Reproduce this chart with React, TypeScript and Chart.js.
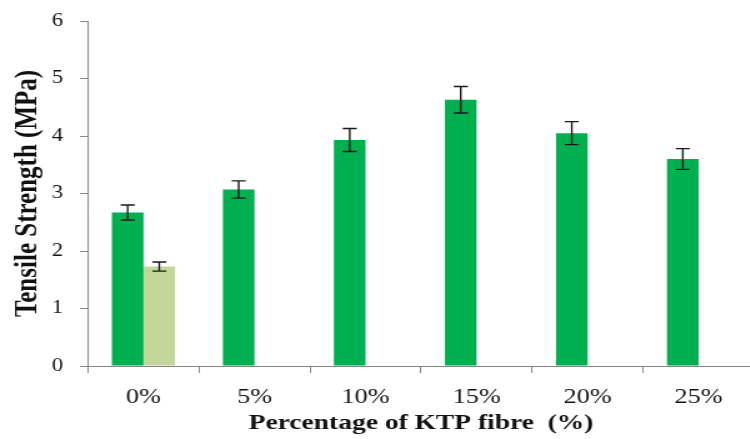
import React, { useEffect, useRef } from "react";
import { Chart, registerables } from "chart.js";

Chart.register(...registerables);

const categories = ["0%", "5%", "10%", "15%", "20%", "25%"];
const mainValues = [2.67, 3.07, 3.93, 4.63, 4.05, 3.6];
const mainErrors = [0.13, 0.15, 0.2, 0.23, 0.2, 0.18];
const refValues: (number | null)[] = [1.73, null, null, null, null, null];
const refErrors: (number | null)[] = [0.08, null, null, null, null, null];
const yTicks = [0, 1, 2, 3, 4, 5, 6];

const errorsByDataset = [mainErrors, refErrors];

const FONT = "'Liberation Serif', 'Times New Roman', serif";
// the reference is horizontally stretched; draw on a narrower canvas and stretch it with CSS
const SX = 1.25;
const CANVAS_W = 605;
const CANVAS_H = 439;

const errorBarPlugin = {
  id: "errorBars",
  afterDatasetsDraw(chart: any) {
    const ctx = chart.ctx;
    const yScale = chart.scales.y;
    ctx.save();
    ctx.strokeStyle = "#1a1a1a";
    ctx.lineWidth = 1.4;
    chart.data.datasets.forEach((ds: any, di: number) => {
      const meta = chart.getDatasetMeta(di);
      const errs = errorsByDataset[di];
      meta.data.forEach((bar: any, i: number) => {
        const v = ds.data[i];
        const e = errs[i];
        if (v == null || e == null) return;
        const x = bar.x;
        const yTop = yScale.getPixelForValue(v + e);
        const yBot = yScale.getPixelForValue(v - e);
        const half = 5.6;
        ctx.beginPath();
        ctx.moveTo(x, yTop);
        ctx.lineTo(x, yBot);
        ctx.moveTo(x - half, yTop);
        ctx.lineTo(x + half, yTop);
        ctx.moveTo(x - half, yBot);
        ctx.lineTo(x + half, yBot);
        ctx.stroke();
      });
    });
    ctx.restore();
  },
};

export default function App() {
  const canvasRef = useRef<HTMLCanvasElement | null>(null);

  useEffect(() => {
    const canvas = canvasRef.current;
    if (!canvas) return;
    const chart = new Chart(canvas, {
      type: "bar",
      data: {
        labels: categories,
        datasets: [
          {
            label: "KTP",
            data: mainValues,
            backgroundColor: "#00B050",
            borderWidth: 0,
            barPercentage: 1,
            categoryPercentage: 0.57,
          },
          {
            label: "Reference",
            data: refValues,
            backgroundColor: "#C4D79B",
            borderWidth: 0,
            barPercentage: 1,
            categoryPercentage: 0.57,
          },
        ],
      },
      options: {
        responsive: false,
        animation: false,
        devicePixelRatio: 1,
        layout: { padding: { left: 0, right: 1.5, top: 21, bottom: 0 } },
        plugins: {
          legend: { display: false },
          tooltip: { enabled: false },
        },
        scales: {
          x: {
            grid: {
              display: true,
              drawOnChartArea: false,
              drawTicks: true,
              tickLength: 7,
              offset: true,
              color: "#868686",
            },
            border: { display: true, color: "#868686", width: 1 },
            ticks: {
              color: "#111",
              font: { family: FONT, size: 21 },
              padding: 12,
              maxRotation: 0,
            },
            title: {
              display: true,
              text: "Percentage of KTP fibre  (%)",
              color: "#111",
              font: { family: FONT, size: 22, weight: "bold" },
              padding: { top: 0, bottom: 2.5 },
            },
            afterFit(scale: any) {
              scale.height = 73;
              scale.paddingLeft = 0;
              scale.paddingRight = 0;
            },
          },
          y: {
            min: 0,
            max: 6,
            afterBuildTicks(scale: any) {
              scale.ticks = yTicks.map((v) => ({ value: v }));
            },
            grid: {
              display: true,
              drawOnChartArea: false,
              drawTicks: true,
              tickLength: 6.4,
              color: "#868686",
            },
            border: { display: true, color: "#868686", width: 1 },
            ticks: {
              color: "#111",
              font: { family: FONT, size: 18 },
              padding: 13.4,
            },
            title: {
              display: true,
              text: "Tensile Strength (MPa)",
              color: "#111",
              font: { family: FONT, size: 25, weight: "bold" },
              padding: { top: 7.5, bottom: 0 },
            },
            afterFit(scale: any) {
              scale.width = 70.4;
              scale.paddingTop = 0;
              scale.paddingBottom = 0;
            },
          },
        },
      },
      plugins: [errorBarPlugin],
    } as any);
    return () => chart.destroy();
  }, []);

  return (
    <div
      style={{
        position: "absolute",
        left: 0,
        top: 0,
        width: 750,
        height: 439,
        overflow: "hidden",
        background: "#fff",
      }}
    >
      <canvas
        ref={canvasRef}
        width={CANVAS_W}
        height={CANVAS_H}
        style={{ display: "block", width: `${CANVAS_W * SX}px`, height: `${CANVAS_H}px` }}
      />
    </div>
  );
}
